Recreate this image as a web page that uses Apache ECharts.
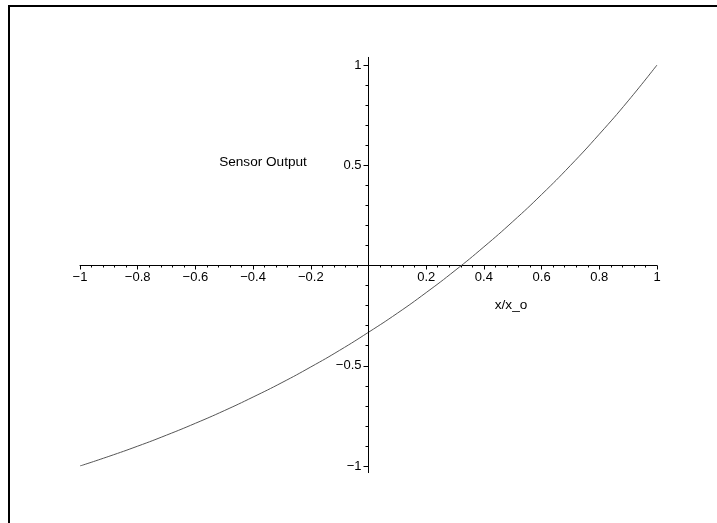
<!DOCTYPE html>
<html>
<head>
<meta charset="utf-8">
<script src="https://cdn.jsdelivr.net/npm/echarts@6/dist/echarts.min.js"></script>
<style>
  html, body { margin: 0; padding: 0; background: #fff; }
  #chart { width: 717px; height: 523px; }
</style>
</head>
<body>
<div id="chart"></div>
<script>
// Normalised position x/x_o and the sensor output read at each step
const xValues = [-1, -0.9, -0.8, -0.7, -0.6, -0.5, -0.4, -0.3, -0.2, -0.1, 0,
                 0.1, 0.2, 0.3, 0.4, 0.5, 0.6, 0.7, 0.8, 0.9, 1];
const sensorOutput = [-1, -0.952, -0.901, -0.846, -0.787, -0.724, -0.656, -0.584, -0.506, -0.423, -0.333,
                      -0.238, -0.135, -0.025, 0.093, 0.219, 0.354, 0.499, 0.655, 0.821, 1];

// Vertical axis line runs slightly past the labelled range
const yAxisSpan = [-1.035, 1.04];

const xLabelTitle = 'x/x_o';
const yLabelTitle = 'Sensor Output';

const FONT = '"Liberation Sans", Arial, Helvetica, sans-serif';

const GRID = { left: 80, right: 60, top: 65, bottom: 57 };
const W = 717, H = 523;
const gridW = W - GRID.left - GRID.right;
const gridH = H - GRID.top - GRID.bottom;

function fmt(v) {
  if (Math.abs(v) < 1e-9) return '';
  const s = String(Math.round(v * 10) / 10);
  return s.replace('-', '\u2212');
}

const chart = echarts.init(document.getElementById('chart'), null, { renderer: 'canvas' });

chart.setOption({
  animation: false,
  backgroundColor: '#fff',
  grid: Object.assign({ containLabel: false }, GRID),
  xAxis: {
    type: 'value',
    min: -1, max: 1, interval: 0.2,
    // shift the whole axis (line, ticks, labels) up to y = 0
    offset: -gridH / 2,
    axisLine: { onZero: false, lineStyle: { color: '#000', width: 1 } },
    axisTick: { show: true, inside: false, length: 4, lineStyle: { color: '#000' } },
    minorTick: { show: true, splitNumber: 5, length: 2, lineStyle: { color: '#000' } },
    splitLine: { show: false },
    axisLabel: {
      formatter: fmt, color: '#000', fontFamily: FONT, fontSize: 13, margin: 5,
      showMinLabel: true, showMaxLabel: true
    }
  },
  yAxis: {
    type: 'value',
    min: -1, max: 1, interval: 0.5,
    // shift the whole axis right to x = 0
    offset: -gridW / 2,
    axisLine: { onZero: false, lineStyle: { color: '#000', width: 1 } },
    axisTick: { show: true, inside: false, length: 5, lineStyle: { color: '#000' } },
    minorTick: { show: true, splitNumber: 5, length: 3, lineStyle: { color: '#000' } },
    splitLine: { show: false },
    axisLabel: {
      formatter: fmt, color: '#000', fontFamily: FONT, fontSize: 13, margin: 7,
      showMinLabel: true, showMaxLabel: true
    }
  },
  series: [
    {
      type: 'line',
      data: xValues.map((x, i) => [x, sensorOutput[i]]),
      smooth: true,
      showSymbol: false,
      lineStyle: { color: '#555', width: 1 },
      silent: true
    },
    {
      // extension of the vertical axis line
      type: 'line',
      data: yAxisSpan.map(v => [0, v]),
      clip: false,
      showSymbol: false,
      lineStyle: { color: '#000', width: 1 },
      silent: true
    }
  ],
  graphic: [
    {
      type: 'rect',
      shape: { x: 9, y: 6, width: 1000, height: 1000 },
      style: { fill: null, stroke: '#000', lineWidth: 2 },
      silent: true
    },
    {
      type: 'text',
      x: 263, y: 162,
      style: {
        text: yLabelTitle, fill: '#000', font: '13.6px ' + FONT,
        align: 'center', verticalAlign: 'middle'
      }
    },
    {
      type: 'text',
      x: 511, y: 305,
      style: {
        text: xLabelTitle, fill: '#000', font: '13.6px ' + FONT,
        align: 'center', verticalAlign: 'middle'
      }
    }
  ]
});
</script>
</body>
</html>
